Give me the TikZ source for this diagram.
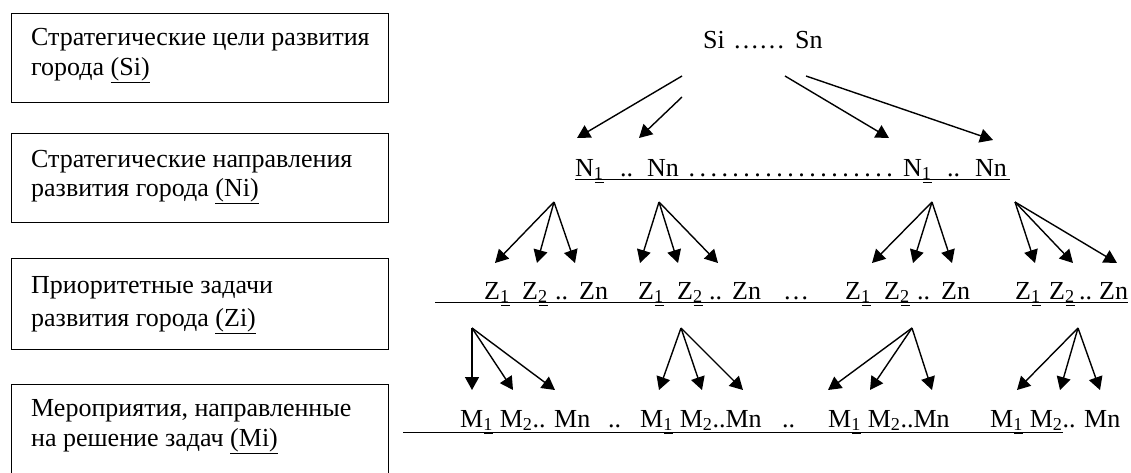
\documentclass[tikz,border=0pt]{standalone}
\usepackage{fontspec}
\setmainfont{Liberation Serif}
\usetikzlibrary{arrows.meta}
\newcommand\subline[1]{\draw[ul] ([xshift=-9pt,yshift=-6.5pt]#1.base east) -- ([yshift=-6.5pt]#1.base east);}
\begin{document}
\begin{tikzpicture}[x=1pt,y=-1pt,
  box/.style={line width=1pt},
  lbl/.style={anchor=base west, inner sep=0pt, font=\fontsize{26}{30}\selectfont},
  arr/.style={line width=1.4pt, -{Triangle[length=13pt,width=14pt]}},
  ul/.style={line width=1pt}]
\useasboundingbox (0,0) rectangle (1131,472);
% left boxes
\draw[box] (11,13) rectangle (388,102);
\draw[box] (11,133) rectangle (388,222);
\draw[box] (11,258) rectangle (388,349);
\draw[box] (11,480) -- (11,384) -- (388,384) -- (388,480);
\node[lbl] (b1a) at (31,45) {Стратегические цели развития};
\node[lbl] (b1b) at (31,75) {города \underline{(Si)}};
\node[lbl] (b2a) at (31,167) {Стратегические направления};
\node[lbl] (b2b) at (31,196) {развития города \underline{(Ni)}};
\node[lbl] (b3a) at (31,293) {Приоритетные задачи};
\node[lbl] (b3b) at (31,326) {развития города \underline{(Zi)}};
\node[lbl] (b4a) at (31,416) {Мероприятия, направленные};
\node[lbl] (b4b) at (31,446) {на решение задач \underline{(Mi)}};
% S row
\node[lbl] (Si) at (703,48) {Si};
\node[lbl] (Sd) at (733,48) {……};
\node[lbl] (Sn) at (795,48) {Sn};
\coordinate (s1) at (682,76); \coordinate (s2) at (682,97);
\coordinate (s3) at (785,76); \coordinate (s4) at (806,76);
\coordinate (n1) at (577,138); \coordinate (n2) at (639,138);
\coordinate (n3) at (889,138); \coordinate (n4) at (993,140);
\draw[arr] (s1) -- (n1);
\draw[arr] (s2) -- (n2);
\draw[arr] (s3) -- (n3);
\draw[arr] (s4) -- (n4);
% N row
\node[lbl] (N1a) at (575,176) {N\textsubscript{1}};
\node[lbl] (dd1) at (620,176) {..};
\node[lbl] (Nna) at (647,176) {Nn};
\node[lbl] (ndots) at (686,176) {\hbox to 209pt{\xleaders\hbox to 10.8pt{\hss.\hss}\hfill}};
\node[lbl] (N1b) at (903,176) {N\textsubscript{1}};
\node[lbl] (dd2) at (947,176) {..};
\node[lbl] (Nnb) at (975,176) {Nn};
\draw[ul] (575,179) -- (1010,179);
\subline{N1a} \subline{N1b}
% N -> Z arrows
\coordinate (a1) at (554,202); \coordinate (a2) at (659,202);
\coordinate (a3) at (932,202); \coordinate (a4) at (1015,202);
\foreach \t in {495,537,575} \draw[arr] (a1) -- (\t,263);
\foreach \t in {640,678,718} \draw[arr] (a2) -- (\t,263);
\foreach \t in {872,913,952} \draw[arr] (a3) -- (\t,263);
\foreach \t in {1035,1073,1117} \draw[arr] (a4) -- (\t,263);
% Z row
\foreach \g/\x/\a/\b/\c in {1/484/38/71/95, 2/638/39/71/94, 3/845/39/72/96, 4/1015/34/64/84}{
  \node[lbl] (za\g) at (\x,299) {Z\textsubscript{1}};
  \node[lbl] (zb\g) at (\x+\a,299) {Z\textsubscript{2}};
  \node[lbl] (zc\g) at (\x+\b,299) {..};
  \node[lbl] (zd\g) at (\x+\c,299) {Zn};
  \subline{za\g} \subline{zb\g}
}
\node[lbl] (zdots) at (783,299) {…};
\draw[ul] (435,302.5) -- (1128,302.5);
% Z -> M arrows
\coordinate (c1) at (472,328); \coordinate (c2) at (681,328);
\coordinate (c3) at (912,328); \coordinate (c4) at (1078,328);
\foreach \t in {472,513,555} \draw[arr] (c1) -- (\t,390);
\foreach \t in {659,702,743} \draw[arr] (c2) -- (\t,390);
\foreach \t in {828,870,932} \draw[arr] (c3) -- (\t,390);
\foreach \t in {1017,1060,1100} \draw[arr] (c4) -- (\t,390);
% M row
\node[lbl] (m1) at (460,427) {M\textsubscript{1}};
\node[lbl] (m1r) at (m1.base east) {\ M\textsubscript{2}.. Mn};
\node[lbl] (md1) at (608,427) {..};
\node[lbl] (m2) at (640,427) {M\textsubscript{1}};
\node[lbl] (m2r) at (m2.base east) {\ M\textsubscript{2}..Mn};
\node[lbl] (md2) at (782,427) {..};
\node[lbl] (m3) at (828,427) {M\textsubscript{1}};
\node[lbl] (m3r) at (m3.base east) {\ M\textsubscript{2}..Mn};
\node[lbl] (m4) at (990,427) {M\textsubscript{1}};
\node[lbl] (m4r) at (m4.base east) {\ M\textsubscript{2}.. Mn};
\draw[ul] (403,432) -- (1063,432);
\subline{m1} \subline{m2} \subline{m3} \subline{m4}
\end{tikzpicture}
\end{document}
